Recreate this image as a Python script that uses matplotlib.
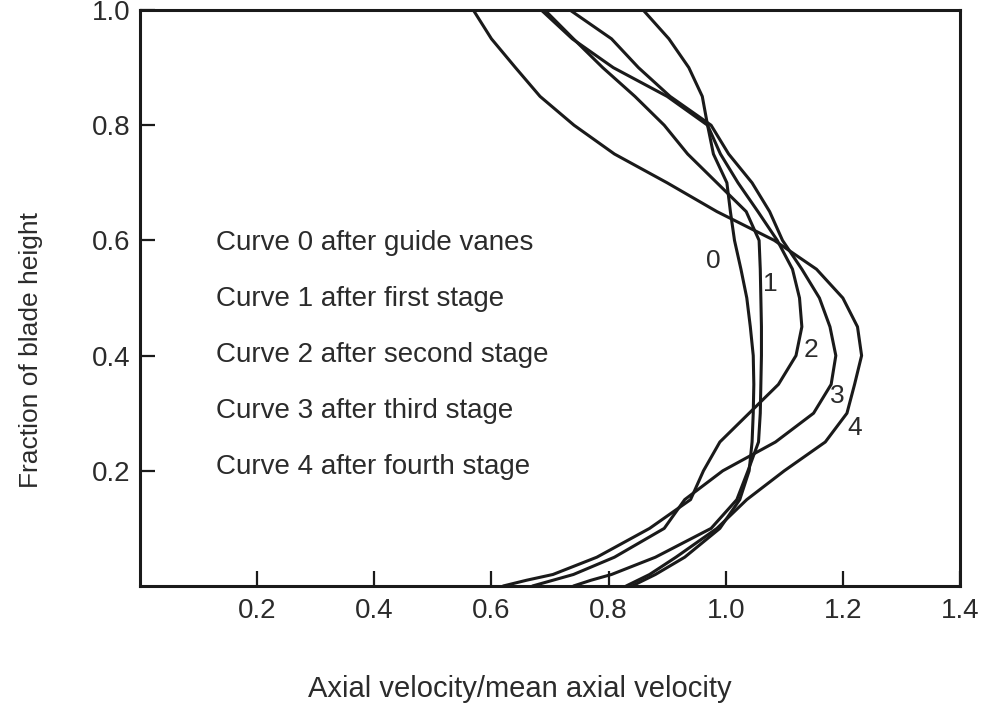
import matplotlib
matplotlib.use("Agg")
import matplotlib.pyplot as plt
import numpy as np

plt.rcParams["font.family"] = ["Liberation Sans", "DejaVu Sans"]

# Fraction of blade height (shared grid for all curves)
heights = [0.0, 0.01, 0.02, 0.05, 0.10, 0.15, 0.20, 0.25, 0.30, 0.35, 0.40, 0.45,
           0.50, 0.55, 0.60, 0.65, 0.70, 0.75, 0.80, 0.85, 0.90, 0.95, 1.0]

# Axial velocity / mean axial velocity
curve0 = [0.84, 0.86, 0.88, 0.93, 0.990, 1.024, 1.040, 1.045, 1.047, 1.048, 1.047, 1.042,
          1.036, 1.026, 1.015, 1.008, 1.002, 0.979, 0.969, 0.960, 0.937, 0.903, 0.859]
curve1 = [0.74, 0.77, 0.805, 0.88, 0.975, 1.019, 1.038, 1.056, 1.059, 1.060, 1.061, 1.061,
          1.060, 1.059, 1.057, 1.035, 0.985, 0.935, 0.895, 0.845, 0.790, 0.740, 0.691]
curve2 = [0.62, 0.66, 0.705, 0.78, 0.870, 0.940, 0.962, 0.990, 1.040, 1.090, 1.120, 1.130,
          1.126, 1.114, 1.088, 1.055, 1.021, 0.991, 0.969, 0.900, 0.808, 0.738, 0.685]
curve3 = [0.67, 0.705, 0.74, 0.81, 0.895, 0.930, 0.995, 1.085, 1.150, 1.180, 1.188, 1.178,
          1.160, 1.130, 1.097, 1.075, 1.045, 1.005, 0.975, 0.905, 0.851, 0.805, 0.734]
curve4 = [0.83, 0.85, 0.87, 0.915, 0.985, 1.036, 1.100, 1.170, 1.207, 1.220, 1.232, 1.225,
          1.200, 1.155, 1.083, 0.985, 0.900, 0.810, 0.741, 0.683, 0.641, 0.600, 0.569]

curves = [curve0, curve1, curve2, curve3, curve4]
curve_ids = ["0", "1", "2", "3", "4"]
curve_notes = [
    "Curve 0 after guide vanes",
    "Curve 1 after first stage",
    "Curve 2 after second stage",
    "Curve 3 after third stage",
    "Curve 4 after fourth stage",
]

x_ticks = [0.2, 0.4, 0.6, 0.8, 1.0, 1.2, 1.4]
y_ticks = [0.2, 0.4, 0.6, 0.8, 1.0]

ink = "#1a1a1a"
txt = "#2b2b2b"

fig = plt.figure(figsize=(9.82, 7.10), dpi=100)
ax = fig.add_axes([140 / 982, 124 / 710, 820 / 982, 576 / 710])

for vals in curves:
    ax.plot(vals, heights, color=ink, lw=2.2, solid_capstyle="round", solid_joinstyle="round")

# curve numbers next to the bulges
label_pos = [(0.978, 0.565), (1.076, 0.525), (1.146, 0.41), (1.19, 0.33), (1.22, 0.275)]
for cid, (lx, ly) in zip(curve_ids, label_pos):
    ax.text(lx, ly, cid, fontsize=19, color=txt, ha="center", va="center")

# descriptive text block
for i, note in enumerate(curve_notes):
    ax.text(0.13, 0.595 - i * 0.097, note, fontsize=20, color=txt, ha="left", va="center")

ax.set_xlim(0, 1.4)
ax.set_ylim(0, 1.0)
ax.set_xticks(x_ticks)
ax.set_xticklabels([f"{t:.1f}" for t in x_ticks])
ax.set_yticks(y_ticks)
ax.set_yticklabels([f"{t:.1f}" for t in y_ticks])
ax.tick_params(direction="in", length=11, width=1.6, colors=ink, labelcolor=txt,
               labelsize=20)
ax.tick_params(axis="x", pad=9)
ax.tick_params(axis="y", pad=7)
for sp in ax.spines.values():
    sp.set_linewidth(2.2)
    sp.set_color(ink)

ax.set_xlabel("Axial velocity/mean axial velocity", fontsize=21, color=txt)
ax.xaxis.set_label_coords(0.463, -0.155)
ax.set_ylabel("Fraction of blade height", fontsize=19, color=txt)
ax.yaxis.set_label_coords(-0.118, 0.41)

fig.savefig("out.png", dpi=100)
